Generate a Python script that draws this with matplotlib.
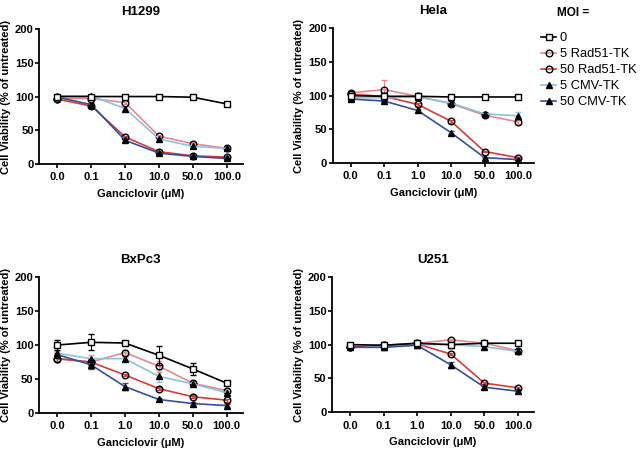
import matplotlib.pyplot as plt
from matplotlib.lines import Line2D

plt.rcParams['font.family'] = ['Liberation Sans', 'DejaVu Sans']

doses = ['0.0', '0.1', '1.0', '10.0', '50.0', '100.0']
series = ['0', '5 Rad51-TK', '50 Rad51-TK', '5 CMV-TK', '50 CMV-TK']

# viability values (% of untreated) per cell line, one list per series
h1299 = [
    [100, 100, 100, 100, 99, 89],
    [97, 97, 91, 41, 30, 23],
    [96, 86, 40, 18, 12, 10],
    [101, 101, 82, 37, 26, 23],
    [99, 88, 35, 16, 11, 8],
]
h1299_err = [
    [2, 1, 1, 1, 1, 2],
    [2, 2, 2, 2, 2, 2],
    [2, 2, 2, 1, 1, 1],
    [2, 2, 3, 2, 2, 2],
    [2, 2, 2, 1, 1, 1],
]
hela = [
    [100, 99, 99, 98, 98, 98],
    [104, 109, 99, 88, 71, 61],
    [102, 99, 87, 62, 17, 8],
    [97, 97, 98, 89, 73, 70],
    [95, 92, 78, 45, 8, 5],
]
hela_err = [
    [2, 1, 1, 1, 1, 1],
    [2, 14, 2, 2, 3, 3],
    [2, 2, 2, 2, 1, 1],
    [2, 2, 2, 3, 3, 5],
    [2, 2, 2, 2, 1, 1],
]
bxpc3 = [
    [100, 104, 103, 85, 65, 44],
    [80, 75, 89, 69, 44, 33],
    [80, 75, 56, 36, 24, 19],
    [88, 80, 80, 54, 43, 30],
    [86, 71, 39, 20, 14, 11],
]
bxpc3_err = [
    [8, 12, 2, 14, 9, 3],
    [3, 5, 4, 8, 3, 3],
    [3, 5, 2, 2, 2, 2],
    [3, 6, 3, 9, 3, 3],
    [3, 6, 5, 2, 2, 2],
]
u251 = [
    [100, 99, 102, 100, 102, 102],
    [97, 99, 102, 107, 102, 91],
    [97, 99, 101, 86, 43, 36],
    [100, 97, 100, 100, 97, 90],
    [96, 96, 99, 70, 37, 31],
]
u251_err = [
    [2, 2, 2, 2, 2, 2],
    [2, 2, 2, 2, 2, 3],
    [2, 2, 2, 2, 2, 2],
    [2, 2, 2, 2, 2, 2],
    [2, 2, 2, 4, 2, 2],
]

line_colors = ['black', '#e8888e', '#d93a3a', '#8cc1e3', '#34509c']
markers = ['s', 'o', 'o', '^', '^']
mfc = ['white', 'none', 'none', 'black', 'black']

fig = plt.figure(figsize=(6.4, 4.49), dpi=100)

panels = [
    ('H1299', h1299, h1299_err, [0.0615, 0.635, 0.318, 0.300]),
    ('Hela', hela, hela_err, [0.520, 0.637, 0.314, 0.300]),
    ('BxPc3', bxpc3, bxpc3_err, [0.061, 0.080, 0.318, 0.303]),
    ('U251', u251, u251_err, [0.519, 0.082, 0.315, 0.301]),
]

for title, data, err, pos in panels:
    ax = fig.add_axes(pos)
    x = list(range(len(doses)))
    for i in range(len(series)):
        ax.errorbar(x, data[i], yerr=err[i], color=line_colors[i], lw=1.2,
                    marker=markers[i], ms=4.8, mfc=mfc[i], mec='black', mew=1.0,
                    ecolor=line_colors[i] if i else 'black', elinewidth=0.8,
                    capsize=2.5, label=series[i], zorder=3 + (i == 0))
    ax.set_xlim(-0.53, 5.47)
    ax.set_ylim(0, 200)
    ax.set_yticks([0, 50, 100, 150, 200])
    ax.set_xticks(x)
    ax.set_xticklabels(doses)
    ax.spines['top'].set_visible(False)
    ax.spines['right'].set_visible(False)
    ax.spines['left'].set_linewidth(1.3)
    ax.spines['bottom'].set_linewidth(1.3)
    ax.tick_params(axis='y', length=3, width=1.2, labelsize=8, pad=1)
    ax.tick_params(axis='x', length=3, width=1.2, labelsize=8, pad=3)
    for lab in ax.get_xticklabels() + ax.get_yticklabels():
        lab.set_fontweight('bold')
    ax.set_title(title, fontsize=9.5, fontweight='bold', pad=10)
    ax.set_xlabel('Ganciclovir (\u03bcM)', fontsize=8, fontweight='bold', labelpad=5)
    ax.set_ylabel('Cell Viability (% of untreated)', fontsize=8, fontweight='bold', labelpad=3)

handles = [Line2D([], [], color=line_colors[i], lw=1.2, marker=markers[i], ms=4.8,
                  mfc=mfc[i], mec='black', mew=1.0) for i in range(len(series))]
fig.text(0.870, 0.972, 'MOI =', fontsize=8.5, fontweight='bold', va='center')
fig.legend(handles, series, loc='upper left', bbox_to_anchor=(0.846, 0.928),
           frameon=False, fontsize=9.3, handlelength=1.15, handletextpad=0.25,
           labelspacing=0.3, borderpad=0, borderaxespad=0)

plt.savefig('out.png', dpi=100)
